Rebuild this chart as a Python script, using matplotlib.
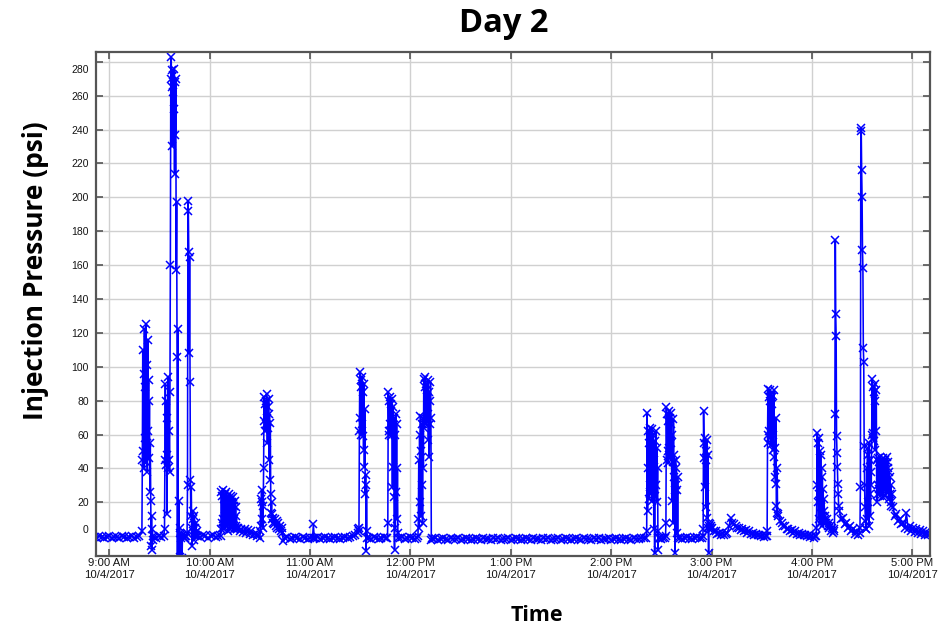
import matplotlib
matplotlib.use("Agg")
import matplotlib.pyplot as plt
from matplotlib.transforms import ScaledTranslation
import numpy as np
import pandas as pd

# day 2 injection pressure log
day = "2017-10-04"

# baseline / burst pieces: start (min after 9:00), sample step (min), psi values
base_a = [-0.5, -1, 0, -0.5, -1, -0.5, 0, -1, -0.5, -0.5, -1, 0, -0.5, -1, -0.5, 0, -1,
          -0.5, 0]
burst_1 = [3, 45, 110, 50, 96, 40, 122, 58, 88, 44, 125, 55, 101, 38, 116, 62, 92, 46,
           80, 26, 55, 21, -6, 12, -8, 4, -2, 0]
base_b = [-0.5, -1, 0, -0.5, 0]
burst_2 = [4, 45, 90, 42, 80, 48, 13, 70, 40, 94, 45, 62, 38, 85, 160, 270, 283, 265,
           275, 230, 272, 262, 252, 276, 214, 268, 237, 270, 157, 197, 106, -16, 122, -14,
           21, -16, 5, -12, 2, -1, -14, 0, -13, 1]
base_c = [-1, 0, -1, 0]
spike_3 = [2, 30, 198, 192, 168, 108, 165, 91, 33, 12, 29, 5, -6, 15, 3, 10, -2, 12, 2,
           5, 0, 8, 1, 3, 0]
base_d = [0, -0.5, 0.5, 0, -1, 0, 0.5, -0.5, 0]
burst_4 = [0, 4, 26, 8, 24, 5, 27, 10, 22, 4, 25, 12, 20, 6, 26, 9, 23, 3, 21, 11, 25,
           7, 19, 4, 22, 13, 24, 5, 20, 8, 23, 4, 18, 10, 21, 5, 17, 6, 12, 4, 5]
tail_e = [5, 3, 4.5, 2.5, 4, 2, 3.5, 1.5, 3, 1, 1.5, 0, 0.5, -1]
burst_5 = [3, 22, 6, 27, 10, 20, 5, 18, 40, 82, 68, 78, 62, 80, 66, 84, 70, 55, 76, 64,
           81, 45, 72, 33, 67, 25, 14, 20, 10, 13, 8]
tail_f = [11, 7, 10, 6, 9, 5, 8, 4, 6, 3, 5, 2, -3]
base_g = [-1, -0.5, -1.5, -1, -0.5, -1, -1.5, -0.5, -1, -1.5, -1]
blip_g = [-1, 7, -1]
base_h = [-1, -0.5, -1.5, -1, -0.5, -1, -1.5, -1, -0.5, -1, -1.5, -1, -0.5, -1, -0.5,
          0, 0.5]
burst_6 = [2, 4, 3, 5, 62, 97, 70, 92, 60, 88, 66, 94, 59, 85, 51, 90, 41, 75, 25, 36,
           -9, 30, 3, -1]
base_i = [-1, -1.5, -0.5, -1, -1.5, -1, -0.5, -1]
burst_7 = [-1, 8, 85, 62, 80, 60, 82, 66, 78, 59, 81, 64, 29, 76, 41, 70, 23, -8, 60, 5,
           72, 26, 66, 10, 40, 2, -1]
base_j = [-1, -0.5, -1.5, -1, -0.5, -1, -1.5, -1]
burst_8 = [0, 10, 45, 5, 60, 20, 71, 12, 50, 30, 66, 8, 70, 40, 93, 64, 88, 70, 94, 66,
           90, 68, 86, 72, 92, 57, 85, 47, 80, 66, 91, 70, -2, -1]
base_k = [-1.5, -1, -2, -1.5, -1, -1.5, -2, -1, -1.5, -1.5,
          -1, -2, -1.5, -1, -1.5, -2, -1.5, -1, -1.5, -2,
          -1, -1.5, -1.5, -2, -1, -1.5, -1, -2, -1.5, -1.5,
          -1, -2, -1.5, -1, -1.5, -2, -1.5, -1, -1.5, -2,
          -1, -1.5, -1.5, -2, -1, -1.5, -1, -2, -1.5, -1.5,
          -1, -2, -1.5, -1, -1.5, -2, -1.5, -1, -1.5, -2,
          -1, -1.5, -1.5, -2, -1, -1.5, -1, -2, -1.5, -1.5,
          -1, -2, -1.5, -1, -1.5, -2, -1.5, -1, -1.5, -2,
          -1, -1.5, -1.5, -1, -1]
burst_9 = [-1, 3, 73, 15, 40, 62, 22, 55, 30, 64, 25, 58, 35, 63, 21, 50, 28, 60, 4, 45,
           -10, 56, 24, 62, 30, 52, 20, 40, -8, 3, -1]
base_l = [-1, -1.5, -1, -1]
burst_10 = [0, 8, 76, 45, 72, 50, 68, 43, 74, 52, 70, 46, 66, 55, 73, 21, 60, 44, 8, 69,
            35, 48, 27, -10, 45, 30, 40, 27, 2, 35, -1]
base_m = [-1, -1.5, -1, -0.5, -1, -1.5, -1, -0.5, -1]
burst_11 = [-1, 0, 4, 74, 55, 46, 58, 29, 50, 17, 45, 57, 11, 48, 5, -10, 8, 6, 7, 5, 6, 4]
tail_n = [5, 3, 3, 1.5, 2, 1, 2, 0.5, 1.5, 2, 6, 11, 8, 7, 6, 5, 5, 3.5, 4, 3, 3.5, 2,
          3, 1.5, 2, 1, 1.5, 0.5, 1, 0, 0.5, -0.5, 0]
burst_12 = [0, 3, 60, 87, 55, 82, 62, 86, 58, 80, 54, 84, 65, 78, 51, 83, 60, 86, 47, 35,
            52, 31, 70, 18, 14, 40, 12]
tail_o = [13, 9, 8, 6, 6, 4, 4.5, 3, 3.5, 2, 3, 1.5, 2, 1, 1.5, 0.5, 1, 0, 0.5, -0.5, 0,
          -1, 0]
burst_13 = [0, 5, 30, 61, 20, 55, 10, 58, 25, 50, 8, 48, 17, 40, 6, 35, 12, 28, 8, 22, 15, 10]
tail_p = [12, 8, 10, 6, 8, 5, 6, 3, 5, 2, 4]
spike_14 = [3, 72, 175, 131, 118, 59, 49, 41, 31, 25, 18]
tail_q = [15, 10, 11, 7, 8, 5, 6, 3, 4, 1.5, 3, 1]
spike_15 = [2, 5, 29, 241, 239, 216, 200, 169, 158, 111, 103, 53, 30, 17, 9, 4]
blob_16 = [4, 40, 10, 52, 20, 48, 6, 55, 25, 45, 12, 38, 30, 60, 93, 58, 88, 61, 85, 56,
           90, 51, 80, 62, 86, 20, 45, 30]
blob_17 = [25, 46, 28, 44, 24, 47, 30, 43, 26, 45, 29, 42, 23, 46, 31, 44, 27, 45, 24, 43,
           30, 47, 26, 44, 28, 40, 22, 38, 25, 35, 20, 30, 18, 25]
tail_r = [17, 12, 13, 9, 10, 7, 8, 5, 14, 4, 6, 3, 5, 2.5, 4, 2, 3.5, 1.5, 3, 1, 2.5, 0.5, 1.5]

seg_start = [-9, 19.5, 26.5, 33.0, 44.5, 46.5, 53, 66.5, 77, 90.25, 98, 105, 121.5, 123,
             148.5, 155, 166.25, 173.5, 184.5, 193.5, 321, 329, 332.5, 341, 354.5, 360.5,
             393, 400, 422.5, 428, 433.5, 436.5, 448.5, 452.5, 459.5, 468.5]
seg_step = [1.5, 0.25, 1.5, 0.25, 0.5, 0.25, 1.5, 0.25, 1, 0.25, 0.5, 1.5, 0.5, 1.5,
            0.25, 1.5, 0.25, 1.5, 0.25, 1.5, 0.25, 1, 0.25, 1.5, 0.25, 1,
            0.25, 1, 0.25, 0.5, 0.25, 1, 0.25, 0.25, 0.25, 1]
seg_values = [base_a, burst_1, base_b, burst_2, base_c, spike_3, base_d, burst_4, tail_e,
              burst_5, tail_f, base_g, blip_g, base_h, burst_6, base_i, burst_7, base_j,
              burst_8, base_k, burst_9, base_l, burst_10, base_m, burst_11, tail_n,
              burst_12, tail_o, burst_13, tail_p, spike_14, tail_q, spike_15, blob_16,
              blob_17, tail_r]

x_ticks = ["09:00", "10:00", "11:00", "12:00", "13:00", "14:00", "15:00", "16:00", "17:00"]
x_tick_labels = ["9:00 AM", "10:00 AM", "11:00 AM", "12:00 PM", "1:00 PM", "2:00 PM",
                 "3:00 PM", "4:00 PM", "5:00 PM"]
date_label = "10/4/2017"
y_ticks = list(range(0, 281, 20))

# build time series
t0 = pd.Timestamp(day + " 09:00")
minutes = []
psi = []
for start, step, vals in zip(seg_start, seg_step, seg_values):
    for i, v in enumerate(vals):
        minutes.append(start + i * step)
        psi.append(v)
times = t0 + pd.to_timedelta(np.array(minutes), unit="min")

fig = plt.figure(figsize=(9.48, 6.27), dpi=100)
ax = fig.add_axes([0.101, 0.1137, 0.880, 0.804])

ax.plot(times, psi, color="#0000ff", lw=1.15, marker="x", ms=6, mew=1.1)

ax.set_xlim(t0 - pd.Timedelta(minutes=8.1), t0 + pd.Timedelta(minutes=490.6))
ax.set_ylim(-11.5, 286)

ax.set_xticks([pd.Timestamp(day + " " + t) for t in x_ticks])
ax.set_xticklabels([l + "\n" + date_label for l in x_tick_labels],
                   fontsize=8.2, family="Liberation Sans", linespacing=1.15)
ax.set_yticks(y_ticks)
ax.set_yticklabels([str(v) for v in y_ticks], fontsize=7.5, family="Liberation Sans")

ax.grid(True, color="#d0d0d0", lw=1)
ax.set_axisbelow(True)
for s in ax.spines.values():
    s.set_color("#555555")
    s.set_linewidth(1.6)
ax.tick_params(direction="in", length=5, width=1.2, color="#555555",
               labelcolor="#151515", top=True, right=True, pad=5)
ax.tick_params(axis="x", pad=2)

# edge y labels sit inside the axes range
ylabels = ax.get_yticklabels()
ylabels[0].set_transform(ylabels[0].get_transform() +
                         ScaledTranslation(0, 7 / 100, fig.dpi_scale_trans))
ylabels[-1].set_transform(ylabels[-1].get_transform() +
                          ScaledTranslation(0, -7 / 100, fig.dpi_scale_trans))

fig.text(0.531, 0.963, "Day 2", ha="center", va="center", fontsize=23.5,
         fontweight="bold", family="Open Sans")
fig.text(0.037, 0.569, "Injection Pressure (psi)", ha="center", va="center",
         rotation=90, fontsize=19, fontweight="bold", family="Open Sans")
fig.text(0.566, 0.019, "Time", ha="center", va="center", fontsize=15.5,
         fontweight="bold", family="Open Sans")

fig.savefig("out.png", dpi=100)
